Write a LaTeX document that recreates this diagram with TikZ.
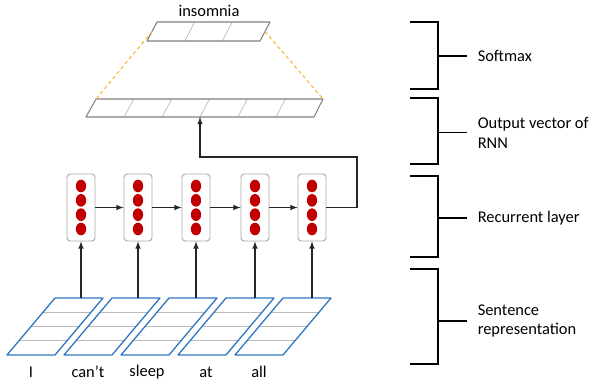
\documentclass[tikz,border=0pt]{standalone}
\usepackage{fontspec}
\setmainfont{Carlito}
\usetikzlibrary{arrows}
\definecolor{dotred}{RGB}{192,0,0}
\definecolor{wordblue}{RGB}{46,117,190}
\definecolor{dashorange}{RGB}{245,185,40}
\definecolor{boxgray}{RGB}{170,170,170}
\begin{document}
\begin{tikzpicture}
    [
    x=0.3mm,y=-0.3mm,
    font=\fontsize{14}{17}\selectfont,
    hidden/.style={draw=boxgray,line width=0.8pt,rounded corners=1mm,inner sep=0pt,minimum width=8.4mm,minimum height=20.1mm,
      path picture={
        \fill [dotred] ([yshift=6.45mm]path picture bounding box.center) ellipse [x radius=1.55mm,y radius=1.9mm];
        \fill [dotred] ([yshift=2.15mm]path picture bounding box.center) ellipse [x radius=1.55mm,y radius=1.9mm];
        \fill [dotred] ([yshift=-2.15mm]path picture bounding box.center) ellipse [x radius=1.55mm,y radius=1.9mm];
        \fill [dotred] ([yshift=-6.45mm]path picture bounding box.center) ellipse [x radius=1.55mm,y radius=1.9mm];}},
    wordbox/.style={draw=wordblue,line width=1.1pt,line join=round},
    cellline/.style={draw=boxgray!80,line width=0.6pt},
    vecbox/.style={draw=gray,line width=0.9pt,line join=round},
    dashline/.style={draw=dashorange,line width=0.9pt,dash pattern=on 3pt off 2.5pt},
    bracketline/.style={draw=black,line width=0.9pt},
    labeltag/.style={anchor=west,inner xsep=9pt,inner ysep=0pt,align=left},
    link/.style={-latex,line width=1.1pt,draw=black!85}
    ]
    \useasboundingbox (0,0) rectangle (593,385);
    % softmax vector
    \node (top) at (209,11) {insomnia};
    \draw [cellline] (194.7,22) -- (184.7,41) (232.3,22) -- (222.3,41);
    \draw [vecbox] (157,22) -- (270,22) -- (260,41) -- (147,41) -- cycle;
    % output vector of the rnn
    \draw [cellline] (133.8,99) -- (124,117) (171.7,99) -- (162,117) (209.5,99) -- (200,117) (247.3,99) -- (238,117) (285.2,99) -- (276,117);
    \draw [vecbox] (96,99) -- (323,99) -- (314,117) -- (86,117) -- cycle;
    \coordinate (s1) at (152,31.5);
    \coordinate (s2) at (265,31.5);
    \coordinate (o1) at (96,99);
    \coordinate (o2) at (323,99);
    \draw [dashline] (s1) -- (o1);
    \draw [dashline] (s2) -- (o2);
    % recurrent layer
    \node (h1) at (81,207.5) [hidden] {};
    \node (h2) at (138,207.5) [hidden] {};
    \node (h3) at (196,207.5) [hidden] {};
    \node (h4) at (255,207.5) [hidden] {};
    \node (h5) at (312,207.5) [hidden] {};
    \draw [link] (h1) to (h2);
    \draw [link] (h2) to (h3);
    \draw [link] (h3) to (h4);
    \draw [link] (h4) to (h5);
    \coordinate (turn) at (357,157);
    \coordinate (out) at (200,117);
    \draw [link] (h5) -| (turn) -| (out);
    % sentence representation
    \draw [cellline] (43,312.25) -- ++(48,0) (31,326.5) -- ++(48,0) (19,340.75) -- ++(48,0);
    \draw [wordbox] (55,298) -- ++(48,0) -- ++(-48,57) -- ++(-48,0) -- cycle;
    \draw [cellline] (100,312.25) -- ++(48,0) (88,326.5) -- ++(48,0) (76,340.75) -- ++(48,0);
    \draw [wordbox] (112,298) -- ++(48,0) -- ++(-48,57) -- ++(-48,0) -- cycle;
    \draw [cellline] (157,312.25) -- ++(48,0) (145,326.5) -- ++(48,0) (133,340.75) -- ++(48,0);
    \draw [wordbox] (169,298) -- ++(48,0) -- ++(-48,57) -- ++(-48,0) -- cycle;
    \draw [cellline] (214,312.25) -- ++(48,0) (202,326.5) -- ++(48,0) (190,340.75) -- ++(48,0);
    \draw [wordbox] (226,298) -- ++(48,0) -- ++(-48,57) -- ++(-48,0) -- cycle;
    \draw [cellline] (271,312.25) -- ++(48,0) (259,326.5) -- ++(48,0) (247,340.75) -- ++(48,0);
    \draw [wordbox] (283,298) -- ++(48,0) -- ++(-48,57) -- ++(-48,0) -- cycle;
    \coordinate (w1) at (81,298);
    \coordinate (w2) at (138,298);
    \coordinate (w3) at (196,298);
    \coordinate (w4) at (255,298);
    \coordinate (w5) at (312,298);
    \draw [link] (w1) to (h1);
    \draw [link] (w2) to (h2);
    \draw [link] (w3) to (h3);
    \draw [link] (w4) to (h4);
    \draw [link] (w5) to (h5);
    \node (l1) at (31,372) {I};
    \node (l2) at (88,372) {can’t};
    \node (l3) at (147,372) {sleep};
    \node (l4) at (206,372) {at};
    \node (l5) at (259,372) {all};
    % brackets on the right
    \node (t1) at (467,56) [labeltag] {Softmax};
    \node (t2) at (467,132.5) [labeltag] {Output vector of\\RNN};
    \node (t3) at (467,218) [labeltag] {Recurrent layer};
    \node (t4) at (467,321) [labeltag] {Sentence\\representation};
    \draw [bracketline] (410,22) -| (438,89) -- (410,89);
    \draw [bracketline] (410,98) -| (438,164) -- (410,164);
    \draw [bracketline] (410,176) -| (438,257) -- (410,257);
    \draw [bracketline] (410,269) -| (438,364) -- (410,364);
    \draw [bracketline] (438,56) -- (t1.west);
    \draw [bracketline] (438,132.5) -- (t2.west);
    \draw [bracketline] (438,218) -- (t3.west);
    \draw [bracketline] (438,321) -- (t4.west);
  \end{tikzpicture}
\end{document}
